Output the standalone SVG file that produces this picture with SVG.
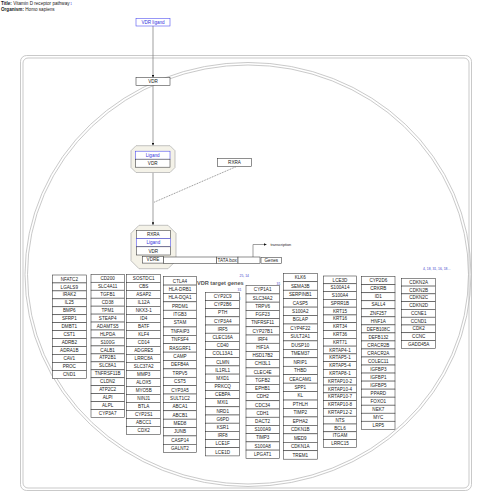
<svg xmlns="http://www.w3.org/2000/svg" width="480" height="498" viewBox="0 0 480 498">
<style>
text{font-family:"Liberation Sans",Arial,sans-serif;font-size:4.6px;fill:#222;text-anchor:middle}
.hd text{text-anchor:start}
.g rect{fill:#fff;stroke:#333;stroke-width:0.55}
.blue rect{stroke:#4444ee}
.blue text{fill:#3333dd}
.cx{fill:#f4f2e8;stroke:#aaa;stroke-width:0.7}
.frame{fill:none;stroke:#bbb;stroke-width:0.8}
.ln{stroke:#777;stroke-width:0.7;fill:none}
.note{fill:#4444cc;font-size:3.4px;text-anchor:start}
</style>
<defs>
<marker id="ah" viewBox="0 0 10 10" refX="10" refY="5" markerWidth="4" markerHeight="4" orient="auto"><path d="M0,0L10,5L0,10z" fill="#111"/></marker>
</defs>
<g class="hd">
<text x="1" y="5"><tspan font-weight="bold">Title:</tspan>  Vitamin D receptor pathway<tspan fill="#3333dd" font-size="3"> 1</tspan></text>
<text x="1" y="11"><tspan font-weight="bold">Organism:</tspan>  Homo sapiens</text>
</g>
<g id="cell">
<rect class="frame" x="20.5" y="55.5" width="451" height="435" rx="6"/>
<rect class="frame" x="23" y="58" width="446" height="430" rx="5"/>
<ellipse class="frame" cx="248" cy="274.5" rx="223" ry="212"/>
<ellipse class="frame" cx="248" cy="274.5" rx="220.5" ry="209.5"/>
</g>
<g id="connectors">
<line class="ln" x1="153" y1="26" x2="153" y2="77.5" marker-end="url(#ah)"/>
<line class="ln" x1="153" y1="85.5" x2="153" y2="145.5" marker-end="url(#ah)"/>
<line class="ln" x1="153" y1="172.5" x2="153" y2="225" marker-end="url(#ah)"/>
<line x1="236" y1="166.7" x2="153.5" y2="202.5" stroke="#222" stroke-width="0.5" stroke-dasharray="1,0.8"/>
<polyline class="ln" points="253,257 253,244.5 266.5,244.5" marker-end="url(#ah)"/>
</g>
<g id="vdr-ligand" class="g blue"><rect x="136" y="18.3" width="34" height="7.7"/><text x="153" y="23.8">VDR ligand</text></g>
<g id="vdr" class="g"><rect x="136" y="77.6" width="34" height="7.8"/><text x="153" y="83.2">VDR</text></g>
<g id="complex1">
<path class="cx" d="M136,145.7H170L175,150.7V167.5L170,172.5H136L131,167.5V150.7Z"/>
<g class="g blue"><rect x="135.5" y="151.2" width="34.5" height="8"/><text x="152.7" y="156.8">Ligand</text></g>
<g class="g"><rect x="135.5" y="159.2" width="34.5" height="8"/><text x="152.7" y="164.8">VDR</text></g>
</g>
<g id="rxra" class="g"><rect x="217.3" y="158.5" width="34.4" height="8.2"/><text x="234.5" y="164.2">RXRA</text></g>
<g id="complex2">
<path class="cx" d="M139,225.3H168L176,233.3V260.7L168,268.7H139L131,260.7V233.3Z"/>
<g class="g"><rect x="136.3" y="230.4" width="34" height="8.2"/><text x="153.3" y="236.1">RXRA</text></g>
<g class="g blue"><rect x="136.3" y="238.6" width="34" height="8.2"/><text x="153.3" y="244.3">Ligand</text></g>
<g class="g"><rect x="136.3" y="246.8" width="34" height="8.2"/><text x="153.3" y="252.5">VDR</text></g>
<g class="g"><rect x="142.5" y="256.3" width="21" height="6.8"/><text x="153" y="261.3">VDRE</text></g>
</g>
<g id="dna" class="g">
<rect x="163.5" y="257" width="53" height="6.3"/>
<rect x="216.5" y="257" width="21.5" height="6.3"/><text x="227.2" y="261.8" font-size="3.8">TATA box</text>
<rect x="238" y="257" width="22" height="6.3"/>
<rect x="261" y="257.3" width="20.7" height="6"/><text x="271.3" y="261.8" font-size="3.8">Genes</text>
</g>
<text x="270.5" y="246" style="text-anchor:start;font-size:3.8px">transcription</text>
<g id="labels">
<text x="197" y="284.5" style="text-anchor:start;font-size:5.6px;font-weight:bold;fill:#555">VDR target genes</text>
<text class="note" x="239.5" y="277">25, 14</text>
<text class="note" x="276.5" y="284.5">31</text>
<text class="note" x="237.5" y="291">31</text>
<text class="note" x="238.5" y="300">8</text>
<text class="note" x="423" y="269.5">4, 18, 31, 16, 18...</text>
</g>
<g id="col1" class="g" transform="translate(52.3,275)">
<g id="NFATC2" transform="translate(0,0)"><rect width="34" height="7.95"/><text x="17" y="5.6">NFATC2</text></g>
<g id="LGALS9" transform="translate(0,7.95)"><rect width="34" height="7.95"/><text x="17" y="5.6">LGALS9</text></g>
<g id="IRAK2" transform="translate(0,15.9)"><rect width="34" height="7.95"/><text x="17" y="5.6">IRAK2</text></g>
<g id="IL25" transform="translate(0,23.85)"><rect width="34" height="7.95"/><text x="17" y="5.6">IL25</text></g>
<g id="BMP6" transform="translate(0,31.8)"><rect width="34" height="7.95"/><text x="17" y="5.6">BMP6</text></g>
<g id="SFRP1" transform="translate(0,39.75)"><rect width="34" height="7.95"/><text x="17" y="5.6">SFRP1</text></g>
<g id="DMBT1" transform="translate(0,47.7)"><rect width="34" height="7.95"/><text x="17" y="5.6">DMBT1</text></g>
<g id="CST1" transform="translate(0,55.65)"><rect width="34" height="7.95"/><text x="17" y="5.6">CST1</text></g>
<g id="ADRB2" transform="translate(0,63.6)"><rect width="34" height="7.95"/><text x="17" y="5.6">ADRB2</text></g>
<g id="ADRA1B" transform="translate(0,71.55)"><rect width="34" height="7.95"/><text x="17" y="5.6">ADRA1B</text></g>
<g id="CAV1" transform="translate(0,79.5)"><rect width="34" height="7.95"/><text x="17" y="5.6">CAV1</text></g>
<g id="PROC" transform="translate(0,87.45)"><rect width="34" height="7.95"/><text x="17" y="5.6">PROC</text></g>
<g id="DMD1" transform="translate(0,95.4)"><rect width="34" height="7.95"/><text x="17" y="5.6">CND1</text></g>
</g>
<g id="col2" class="g" transform="translate(91,274.3)">
<g id="CD200" transform="translate(0,0)"><rect width="33.3" height="7.96"/><text x="16.65" y="5.6">CD200</text></g>
<g id="SULT2A1b" transform="translate(0,7.96)"><rect width="33.3" height="7.96"/><text x="16.65" y="5.6">SLC4A11</text></g>
<g id="TGFB1" transform="translate(0,15.92)"><rect width="33.3" height="7.96"/><text x="16.65" y="5.6">TGFB1</text></g>
<g id="CD38" transform="translate(0,23.88)"><rect width="33.3" height="7.96"/><text x="16.65" y="5.6">CD38</text></g>
<g id="TPM1" transform="translate(0,31.84)"><rect width="33.3" height="7.96"/><text x="16.65" y="5.6">TPM1</text></g>
<g id="STEAP4" transform="translate(0,39.8)"><rect width="33.3" height="7.96"/><text x="16.65" y="5.6">STEAP4</text></g>
<g id="ADAMTS5" transform="translate(0,47.76)"><rect width="33.3" height="7.96"/><text x="16.65" y="5.6">ADAMTS5</text></g>
<g id="HLPDA" transform="translate(0,55.72)"><rect width="33.3" height="7.96"/><text x="16.65" y="5.6">HLPDA</text></g>
<g id="S100G" transform="translate(0,63.68)"><rect width="33.3" height="7.96"/><text x="16.65" y="5.6">S100G</text></g>
<g id="CALB1" transform="translate(0,71.64)"><rect width="33.3" height="7.96"/><text x="16.65" y="5.6">CALB1</text></g>
<g id="ATP2B1" transform="translate(0,79.6)"><rect width="33.3" height="7.96"/><text x="16.65" y="5.6">ATP2B1</text></g>
<g id="SLC8A1" transform="translate(0,87.56)"><rect width="33.3" height="7.96"/><text x="16.65" y="5.6">SLC8A1</text></g>
<g id="TNFRSF11B" transform="translate(0,95.52)"><rect width="33.3" height="7.96"/><text x="16.65" y="5.6">TNFRSF11B</text></g>
<g id="CLDN2" transform="translate(0,103.48)"><rect width="33.3" height="7.96"/><text x="16.65" y="5.6">CLDN2</text></g>
<g id="ATP2C2" transform="translate(0,111.44)"><rect width="33.3" height="7.96"/><text x="16.65" y="5.6">ATP2C2</text></g>
<g id="ALPI" transform="translate(0,119.4)"><rect width="33.3" height="7.96"/><text x="16.65" y="5.6">ALPI</text></g>
<g id="ALPL" transform="translate(0,127.36)"><rect width="33.3" height="7.96"/><text x="16.65" y="5.6">ALPL</text></g>
<g id="CYP3A7" transform="translate(0,135.32)"><rect width="33.3" height="7.96"/><text x="16.65" y="5.6">CYP3A7</text></g>
</g>
<g id="col3" class="g" transform="translate(126.7,274.3)">
<g id="SOSTDC1" transform="translate(0,0)"><rect width="34" height="8"/><text x="17" y="5.7">SOSTDC1</text></g>
<g id="CBS" transform="translate(0,8)"><rect width="34" height="8"/><text x="17" y="5.7">CBS</text></g>
<g id="ASAP2" transform="translate(0,16)"><rect width="34" height="8"/><text x="17" y="5.7">ASAP2</text></g>
<g id="IL12A" transform="translate(0,24)"><rect width="34" height="8"/><text x="17" y="5.7">IL12A</text></g>
<g id="NKX3-1" transform="translate(0,32)"><rect width="34" height="8"/><text x="17" y="5.7">NKX3-1</text></g>
<g id="ID4" transform="translate(0,40)"><rect width="34" height="8"/><text x="17" y="5.7">ID4</text></g>
<g id="BATF" transform="translate(0,48)"><rect width="34" height="8"/><text x="17" y="5.7">BATF</text></g>
<g id="KLF4" transform="translate(0,56)"><rect width="34" height="8"/><text x="17" y="5.7">KLF4</text></g>
<g id="CD14" transform="translate(0,64)"><rect width="34" height="8"/><text x="17" y="5.7">CD14</text></g>
<g id="ADGRE5" transform="translate(0,72)"><rect width="34" height="8"/><text x="17" y="5.7">ADGRE5</text></g>
<g id="LRRC8A" transform="translate(0,80)"><rect width="34" height="8"/><text x="17" y="5.7">LRRC8A</text></g>
<g id="SLC37A2" transform="translate(0,88)"><rect width="34" height="8"/><text x="17" y="5.7">SLC37A2</text></g>
<g id="MMP3" transform="translate(0,96)"><rect width="34" height="8"/><text x="17" y="5.7">MMP3</text></g>
<g id="ALOX5" transform="translate(0,104)"><rect width="34" height="8"/><text x="17" y="5.7">ALOX5</text></g>
<g id="MYO5B" transform="translate(0,112)"><rect width="34" height="8"/><text x="17" y="5.7">MYO5B</text></g>
<g id="NINJ1" transform="translate(0,120)"><rect width="34" height="8"/><text x="17" y="5.7">NINJ1</text></g>
<g id="BTLA" transform="translate(0,128)"><rect width="34" height="8"/><text x="17" y="5.7">BTLA</text></g>
<g id="CYP2S1" transform="translate(0,136)"><rect width="34" height="8"/><text x="17" y="5.7">CYP2S1</text></g>
<g id="ABCC1" transform="translate(0,144)"><rect width="34" height="8"/><text x="17" y="5.7">ABCC1</text></g>
<g id="CDX2" transform="translate(0,152)"><rect width="34" height="8"/><text x="17" y="5.7">CDX2</text></g>
</g>
<g id="col4" class="g" transform="translate(163.3,276.7)">
<g id="CTLA4" transform="translate(0,0)"><rect width="33.4" height="8.38"/><text x="16.7" y="5.9">CTLA4</text></g>
<g id="HLA-DRB1" transform="translate(0,8.38)"><rect width="33.4" height="8.38"/><text x="16.7" y="5.9">HLA-DRB1</text></g>
<g id="HLA-DQA1" transform="translate(0,16.76)"><rect width="33.4" height="8.38"/><text x="16.7" y="5.9">HLA-DQA1</text></g>
<g id="PRDM1" transform="translate(0,25.14)"><rect width="33.4" height="8.38"/><text x="16.7" y="5.9">PRDM1</text></g>
<g id="ITGB3" transform="translate(0,33.52)"><rect width="33.4" height="8.38"/><text x="16.7" y="5.9">ITGB3</text></g>
<g id="STAM" transform="translate(0,41.9)"><rect width="33.4" height="8.38"/><text x="16.7" y="5.9">STAM</text></g>
<g id="TNFAIP3" transform="translate(0,50.28)"><rect width="33.4" height="8.38"/><text x="16.7" y="5.9">TNFAIP3</text></g>
<g id="TNFSF4" transform="translate(0,58.66)"><rect width="33.4" height="8.38"/><text x="16.7" y="5.9">TNFSF4</text></g>
<g id="RASGRF1" transform="translate(0,67.04)"><rect width="33.4" height="8.38"/><text x="16.7" y="5.9">RASGRF1</text></g>
<g id="CAMP" transform="translate(0,75.42)"><rect width="33.4" height="8.38"/><text x="16.7" y="5.9">CAMP</text></g>
<g id="DEFB4A" transform="translate(0,83.8)"><rect width="33.4" height="8.38"/><text x="16.7" y="5.9">DEFB4A</text></g>
<g id="TRPV5" transform="translate(0,92.18)"><rect width="33.4" height="8.38"/><text x="16.7" y="5.9">TRPV5</text></g>
<g id="CST5" transform="translate(0,100.56)"><rect width="33.4" height="8.38"/><text x="16.7" y="5.9">CST5</text></g>
<g id="CYP3A5" transform="translate(0,108.94)"><rect width="33.4" height="8.38"/><text x="16.7" y="5.9">CYP3A5</text></g>
<g id="SULT1C2" transform="translate(0,117.32)"><rect width="33.4" height="8.38"/><text x="16.7" y="5.9">SULT1C2</text></g>
<g id="ABCA1" transform="translate(0,125.7)"><rect width="33.4" height="8.38"/><text x="16.7" y="5.9">ABCA1</text></g>
<g id="ABCB1" transform="translate(0,134.08)"><rect width="33.4" height="8.38"/><text x="16.7" y="5.9">ABCB1</text></g>
<g id="MED8" transform="translate(0,142.46)"><rect width="33.4" height="8.38"/><text x="16.7" y="5.9">MED8</text></g>
<g id="JUNB" transform="translate(0,150.84)"><rect width="33.4" height="8.38"/><text x="16.7" y="5.9">JUNB</text></g>
<g id="CASP14" transform="translate(0,159.22)"><rect width="33.4" height="8.38"/><text x="16.7" y="5.9">CASP14</text></g>
<g id="GALNT2" transform="translate(0,167.6)"><rect width="33.4" height="8.38"/><text x="16.7" y="5.9">GALNT2</text></g>
</g>
<g id="col5" class="g" transform="translate(205.7,292.3)">
<g id="CYP2C9" transform="translate(0,0)"><rect width="34" height="8.18"/><text x="17" y="5.8">CYP2C9</text></g>
<g id="CYP2B6" transform="translate(0,8.18)"><rect width="34" height="8.18"/><text x="17" y="5.8">CYP2B6</text></g>
<g id="PTH" transform="translate(0,16.36)"><rect width="34" height="8.18"/><text x="17" y="5.8">PTH</text></g>
<g id="CYP3A4" transform="translate(0,24.54)"><rect width="34" height="8.18"/><text x="17" y="5.8">CYP3A4</text></g>
<g id="IRF5" transform="translate(0,32.72)"><rect width="34" height="8.18"/><text x="17" y="5.8">IRF5</text></g>
<g id="CLEC16A" transform="translate(0,40.9)"><rect width="34" height="8.18"/><text x="17" y="5.8">CLEC16A</text></g>
<g id="CD40" transform="translate(0,49.08)"><rect width="34" height="8.18"/><text x="17" y="5.8">CD40</text></g>
<g id="COL13A1" transform="translate(0,57.26)"><rect width="34" height="8.18"/><text x="17" y="5.8">COL13A1</text></g>
<g id="CLMN" transform="translate(0,65.44)"><rect width="34" height="8.18"/><text x="17" y="5.8">CLMN</text></g>
<g id="IL1RL1" transform="translate(0,73.62)"><rect width="34" height="8.18"/><text x="17" y="5.8">IL1RL1</text></g>
<g id="MXD1" transform="translate(0,81.8)"><rect width="34" height="8.18"/><text x="17" y="5.8">MXD1</text></g>
<g id="PRKCQ" transform="translate(0,89.98)"><rect width="34" height="8.18"/><text x="17" y="5.8">PRKCQ</text></g>
<g id="CEBPA" transform="translate(0,98.16)"><rect width="34" height="8.18"/><text x="17" y="5.8">CEBPA</text></g>
<g id="NKT" transform="translate(0,106.34)"><rect width="34" height="8.18"/><text x="17" y="5.8">MXI1</text></g>
<g id="NRD1" transform="translate(0,114.52)"><rect width="34" height="8.18"/><text x="17" y="5.8">NRD1</text></g>
<g id="G6PD" transform="translate(0,122.7)"><rect width="34" height="8.18"/><text x="17" y="5.8">G6PD</text></g>
<g id="KSR1" transform="translate(0,130.88)"><rect width="34" height="8.18"/><text x="17" y="5.8">KSR1</text></g>
<g id="IRF8" transform="translate(0,139.06)"><rect width="34" height="8.18"/><text x="17" y="5.8">IRF8</text></g>
<g id="LCE1F" transform="translate(0,147.24)"><rect width="34" height="8.18"/><text x="17" y="5.8">LCE1F</text></g>
<g id="LCE1D" transform="translate(0,155.42)"><rect width="34" height="8.18"/><text x="17" y="5.8">LCE1D</text></g>
</g>
<g id="col6" class="g" transform="translate(246,285.7)">
<g id="CYP1A1" transform="translate(0,0)"><rect width="33.3" height="8.22"/><text x="16.65" y="5.8">CYP1A1</text></g>
<g id="SLC34A2" transform="translate(0,8.22)"><rect width="33.3" height="8.22"/><text x="16.65" y="5.8">SLC34A2</text></g>
<g id="TRPV6" transform="translate(0,16.44)"><rect width="33.3" height="8.22"/><text x="16.65" y="5.8">TRPV6</text></g>
<g id="FGF23" transform="translate(0,24.66)"><rect width="33.3" height="8.22"/><text x="16.65" y="5.8">FGF23</text></g>
<g id="TNFRSF11A" transform="translate(0,32.88)"><rect width="33.3" height="8.22"/><text x="16.65" y="5.8">TNFRSF11</text></g>
<g id="CYP27B1" transform="translate(0,41.1)"><rect width="33.3" height="8.22"/><text x="16.65" y="5.8">CYP27B1</text></g>
<g id="IRF4" transform="translate(0,49.32)"><rect width="33.3" height="8.22"/><text x="16.65" y="5.8">IRF4</text></g>
<g id="HIF1A" transform="translate(0,57.54)"><rect width="33.3" height="8.22"/><text x="16.65" y="5.8">HIF1A</text></g>
<g id="HSD17B2" transform="translate(0,65.76)"><rect width="33.3" height="8.22"/><text x="16.65" y="5.8">HSD17B2</text></g>
<g id="CHI3L1" transform="translate(0,73.98)"><rect width="33.3" height="8.22"/><text x="16.65" y="5.8">CHI3L1</text></g>
<g id="CLEC4E" transform="translate(0,82.2)"><rect width="33.3" height="8.22"/><text x="16.65" y="5.8">CLEC4E</text></g>
<g id="TGFB2" transform="translate(0,90.42)"><rect width="33.3" height="8.22"/><text x="16.65" y="5.8">TGFB2</text></g>
<g id="ERRB1" transform="translate(0,98.64)"><rect width="33.3" height="8.22"/><text x="16.65" y="5.8">EPHB1</text></g>
<g id="CDH2" transform="translate(0,106.86)"><rect width="33.3" height="8.22"/><text x="16.65" y="5.8">CDH2</text></g>
<g id="CDC34" transform="translate(0,115.08)"><rect width="33.3" height="8.22"/><text x="16.65" y="5.8">CDC34</text></g>
<g id="CDH1" transform="translate(0,123.3)"><rect width="33.3" height="8.22"/><text x="16.65" y="5.8">CDH1</text></g>
<g id="DACT2" transform="translate(0,131.52)"><rect width="33.3" height="8.22"/><text x="16.65" y="5.8">DACT2</text></g>
<g id="S100A9" transform="translate(0,139.74)"><rect width="33.3" height="8.22"/><text x="16.65" y="5.8">S100A9</text></g>
<g id="TIMP3" transform="translate(0,147.96)"><rect width="33.3" height="8.22"/><text x="16.65" y="5.8">TIMP3</text></g>
<g id="S100A8" transform="translate(0,156.18)"><rect width="33.3" height="8.22"/><text x="16.65" y="5.8">S100A8</text></g>
<g id="LPGAT1" transform="translate(0,164.4)"><rect width="33.3" height="8.22"/><text x="16.65" y="5.8">LPGAT1</text></g>
</g>
<g id="col7" class="g" transform="translate(283.3,273.3)">
<g id="KLK6" transform="translate(0,0)"><rect width="34" height="8.45"/><text x="17" y="5.9">KLK6</text></g>
<g id="SEMA3B" transform="translate(0,8.45)"><rect width="34" height="8.45"/><text x="17" y="5.9">SEMA3B</text></g>
<g id="SERPINB1" transform="translate(0,16.9)"><rect width="34" height="8.45"/><text x="17" y="5.9">SERPINB1</text></g>
<g id="CASP5" transform="translate(0,25.35)"><rect width="34" height="8.45"/><text x="17" y="5.9">CASP5</text></g>
<g id="S100A2" transform="translate(0,33.8)"><rect width="34" height="8.45"/><text x="17" y="5.9">S100A2</text></g>
<g id="BGLAP" transform="translate(0,42.25)"><rect width="34" height="8.45"/><text x="17" y="5.9">BGLAP</text></g>
<g id="CYP4F22" transform="translate(0,50.7)"><rect width="34" height="8.45"/><text x="17" y="5.9">CYP4F22</text></g>
<g id="SULT2A1" transform="translate(0,59.15)"><rect width="34" height="8.45"/><text x="17" y="5.9">SULT2A1</text></g>
<g id="DUSP10" transform="translate(0,67.6)"><rect width="34" height="8.45"/><text x="17" y="5.9">DUSP10</text></g>
<g id="TMEM37" transform="translate(0,76.05)"><rect width="34" height="8.45"/><text x="17" y="5.9">TMEM37</text></g>
<g id="NRIP1" transform="translate(0,84.5)"><rect width="34" height="8.45"/><text x="17" y="5.9">NRIP1</text></g>
<g id="THBD" transform="translate(0,92.95)"><rect width="34" height="8.45"/><text x="17" y="5.9">THBD</text></g>
<g id="CEACAM1" transform="translate(0,101.4)"><rect width="34" height="8.45"/><text x="17" y="5.9">CEACAM1</text></g>
<g id="SPP1" transform="translate(0,109.85)"><rect width="34" height="8.45"/><text x="17" y="5.9">SPP1</text></g>
<g id="KL" transform="translate(0,118.3)"><rect width="34" height="8.45"/><text x="17" y="5.9">KL</text></g>
<g id="PTHLH" transform="translate(0,126.75)"><rect width="34" height="8.45"/><text x="17" y="5.9">PTHLH</text></g>
<g id="TIMP2" transform="translate(0,135.2)"><rect width="34" height="8.45"/><text x="17" y="5.9">TIMP2</text></g>
<g id="EPHA2" transform="translate(0,143.65)"><rect width="34" height="8.45"/><text x="17" y="5.9">EPHA2</text></g>
<g id="CDKN1B" transform="translate(0,152.1)"><rect width="34" height="8.45"/><text x="17" y="5.9">CDKN1B</text></g>
<g id="MN1" transform="translate(0,160.55)"><rect width="34" height="8.45"/><text x="17" y="5.9">MED9</text></g>
<g id="CDKN1A" transform="translate(0,169)"><rect width="34" height="8.45"/><text x="17" y="5.9">CDKN1A</text></g>
<g id="TREM1" transform="translate(0,177.45)"><rect width="34" height="8.45"/><text x="17" y="5.9">TREM1</text></g>
</g>
<g id="col8" class="g" transform="translate(323.3,276)">
<g id="LCE3D" transform="translate(0,0)"><rect width="33.4" height="7.79"/><text x="16.7" y="5.5">LCE3D</text></g>
<g id="S100A14" transform="translate(0,7.79)"><rect width="33.4" height="7.79"/><text x="16.7" y="5.5">S100A14</text></g>
<g id="S100A4" transform="translate(0,15.58)"><rect width="33.4" height="7.79"/><text x="16.7" y="5.5">S100A4</text></g>
<g id="SPRR1B" transform="translate(0,23.37)"><rect width="33.4" height="7.79"/><text x="16.7" y="5.5">SPRR1B</text></g>
<g id="KRT15" transform="translate(0,31.16)"><rect width="33.4" height="7.79"/><text x="16.7" y="5.5">KRT15</text></g>
<g id="KRT16" transform="translate(0,38.95)"><rect width="33.4" height="7.79"/><text x="16.7" y="5.5">KRT16</text></g>
<g id="KRT34" transform="translate(0,46.74)"><rect width="33.4" height="7.79"/><text x="16.7" y="5.5">KRT34</text></g>
<g id="KRT36" transform="translate(0,54.53)"><rect width="33.4" height="7.79"/><text x="16.7" y="5.5">KRT36</text></g>
<g id="KRT71" transform="translate(0,62.32)"><rect width="33.4" height="7.79"/><text x="16.7" y="5.5">KRT71</text></g>
<g id="KRTAP4-1" transform="translate(0,70.11)"><rect width="33.4" height="7.79"/><text x="16.7" y="5.5">KRTAP4-1</text></g>
<g id="KRTAP5-1" transform="translate(0,77.9)"><rect width="33.4" height="7.79"/><text x="16.7" y="5.5">KRTAP5-1</text></g>
<g id="KRTAP5-4" transform="translate(0,85.69)"><rect width="33.4" height="7.79"/><text x="16.7" y="5.5">KRTAP5-4</text></g>
<g id="KRTAP8-1" transform="translate(0,93.48)"><rect width="33.4" height="7.79"/><text x="16.7" y="5.5">KRTAP8-1</text></g>
<g id="KRTAP10-2" transform="translate(0,101.27)"><rect width="33.4" height="7.79"/><text x="16.7" y="5.5">KRTAP10-2</text></g>
<g id="KRTAP10-4" transform="translate(0,109.06)"><rect width="33.4" height="7.79"/><text x="16.7" y="5.5">KRTAP10-4</text></g>
<g id="KRTAP10-7" transform="translate(0,116.85)"><rect width="33.4" height="7.79"/><text x="16.7" y="5.5">KRTAP10-7</text></g>
<g id="KRTAP10-8" transform="translate(0,124.64)"><rect width="33.4" height="7.79"/><text x="16.7" y="5.5">KRTAP10-8</text></g>
<g id="KRTAP12-2" transform="translate(0,132.43)"><rect width="33.4" height="7.79"/><text x="16.7" y="5.5">KRTAP12-2</text></g>
<g id="NTS" transform="translate(0,140.22)"><rect width="33.4" height="7.79"/><text x="16.7" y="5.5">NTS</text></g>
<g id="BCL6" transform="translate(0,148.01)"><rect width="33.4" height="7.79"/><text x="16.7" y="5.5">BCL6</text></g>
<g id="ITGAM" transform="translate(0,155.8)"><rect width="33.4" height="7.79"/><text x="16.7" y="5.5">ITGAM</text></g>
<g id="LRRC15" transform="translate(0,163.59)"><rect width="33.4" height="7.79"/><text x="16.7" y="5.5">LRRC15</text></g>
</g>
<g id="col9" class="g" transform="translate(361.7,276.7)">
<g id="CYP2D6" transform="translate(0,0)"><rect width="33.3" height="8.03"/><text x="16.65" y="5.7">CYP2D6</text></g>
<g id="CRABP2" transform="translate(0,8.03)"><rect width="33.3" height="8.03"/><text x="16.65" y="5.7">CRKRB</text></g>
<g id="ID1" transform="translate(0,16.06)"><rect width="33.3" height="8.03"/><text x="16.65" y="5.7">ID1</text></g>
<g id="SALL4" transform="translate(0,24.09)"><rect width="33.3" height="8.03"/><text x="16.65" y="5.7">SALL4</text></g>
<g id="ZNF257" transform="translate(0,32.12)"><rect width="33.3" height="8.03"/><text x="16.65" y="5.7">ZNF257</text></g>
<g id="HNF1A" transform="translate(0,40.15)"><rect width="33.3" height="8.03"/><text x="16.65" y="5.7">HNF1A</text></g>
<g id="DEFB108C" transform="translate(0,48.18)"><rect width="33.3" height="8.03"/><text x="16.65" y="5.7">DEFB108C</text></g>
<g id="DEFB132" transform="translate(0,56.21)"><rect width="33.3" height="8.03"/><text x="16.65" y="5.7">DEFB132</text></g>
<g id="CRACR2B" transform="translate(0,64.24)"><rect width="33.3" height="8.03"/><text x="16.65" y="5.7">CRACR2B</text></g>
<g id="CRACR2A" transform="translate(0,72.27)"><rect width="33.3" height="8.03"/><text x="16.65" y="5.7">CRACR2A</text></g>
<g id="COLEC11" transform="translate(0,80.3)"><rect width="33.3" height="8.03"/><text x="16.65" y="5.7">COLEC11</text></g>
<g id="IGFBP3" transform="translate(0,88.33)"><rect width="33.3" height="8.03"/><text x="16.65" y="5.7">IGFBP3</text></g>
<g id="IGFBP1" transform="translate(0,96.36)"><rect width="33.3" height="8.03"/><text x="16.65" y="5.7">IGFBP1</text></g>
<g id="IGFBP5" transform="translate(0,104.39)"><rect width="33.3" height="8.03"/><text x="16.65" y="5.7">IGFBP5</text></g>
<g id="PPARD" transform="translate(0,112.42)"><rect width="33.3" height="8.03"/><text x="16.65" y="5.7">PPARD</text></g>
<g id="FOXO1" transform="translate(0,120.45)"><rect width="33.3" height="8.03"/><text x="16.65" y="5.7">FOXO1</text></g>
<g id="NEK7" transform="translate(0,128.48)"><rect width="33.3" height="8.03"/><text x="16.65" y="5.7">NEK7</text></g>
<g id="MYC" transform="translate(0,136.51)"><rect width="33.3" height="8.03"/><text x="16.65" y="5.7">MYC</text></g>
<g id="LRP5" transform="translate(0,144.54)"><rect width="33.3" height="8.03"/><text x="16.65" y="5.7">LRP5</text></g>
</g>
<g id="col10" class="g" transform="translate(401.7,278.3)">
<g id="CDKN2A" transform="translate(0,0)"><rect width="34" height="7.78"/><text x="17" y="5.5">CDKN2A</text></g>
<g id="CDKN2B" transform="translate(0,7.78)"><rect width="34" height="7.78"/><text x="17" y="5.5">CDKN2B</text></g>
<g id="CDKN2C" transform="translate(0,15.56)"><rect width="34" height="7.78"/><text x="17" y="5.5">CDKN2C</text></g>
<g id="CDKN2D" transform="translate(0,23.34)"><rect width="34" height="7.78"/><text x="17" y="5.5">CDKN2D</text></g>
<g id="CCNE1" transform="translate(0,31.12)"><rect width="34" height="7.78"/><text x="17" y="5.5">CCNE1</text></g>
<g id="CCND1" transform="translate(0,38.9)"><rect width="34" height="7.78"/><text x="17" y="5.5">CCND1</text></g>
<g id="CDK2" transform="translate(0,46.68)"><rect width="34" height="7.78"/><text x="17" y="5.5">CDK2</text></g>
<g id="CCNC" transform="translate(0,54.46)"><rect width="34" height="7.78"/><text x="17" y="5.5">CCNC</text></g>
<g id="GADD45A" transform="translate(0,62.24)"><rect width="34" height="7.78"/><text x="17" y="5.5">GADD45A</text></g>
</g>
</svg>
